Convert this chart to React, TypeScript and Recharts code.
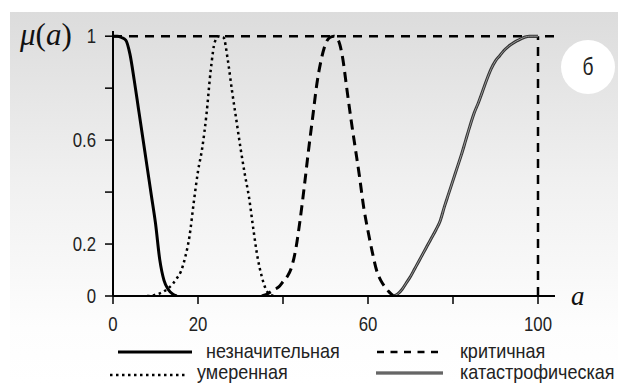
import React from 'react';
import { LineChart, Line, XAxis, YAxis, ReferenceLine } from 'recharts';

// membership functions μ(a)
const minorX = [0, 1, 2, 3, 4, 5, 6, 7, 8, 9, 10, 11, 12, 13, 14, 15];
const minorY = [1, 1, 0.995, 0.985, 0.93, 0.83, 0.72, 0.61, 0.5, 0.39, 0.28, 0.14, 0.06, 0.025, 0.008, 0];

const moderateX = [8, 9, 10, 11, 12, 13, 14, 15, 16, 17, 18, 19, 20, 21, 22, 23, 24, 25, 26, 27, 28, 29, 30, 31, 32, 33, 34, 35, 36, 37, 38];
const moderateY = [0, 0, 0.005, 0.01, 0.018, 0.03, 0.045, 0.068, 0.095, 0.15, 0.23, 0.36, 0.48, 0.57, 0.7, 0.87, 0.98, 1, 0.995, 0.91, 0.79, 0.68, 0.57, 0.47, 0.38, 0.26, 0.15, 0.075, 0.025, 0.005, 0];

const criticalX = [35, 36, 37, 38, 39, 40, 41, 42, 43, 44, 45, 46, 47, 48, 49, 50, 51, 52, 53, 54, 55, 56, 57, 58, 59, 60, 61, 62, 63, 64, 65, 66];
const criticalY = [0, 0.005, 0.015, 0.025, 0.035, 0.055, 0.075, 0.11, 0.18, 0.29, 0.42, 0.56, 0.69, 0.82, 0.91, 0.97, 0.995, 1, 0.985, 0.92, 0.8, 0.68, 0.57, 0.46, 0.34, 0.25, 0.17, 0.1, 0.06, 0.035, 0.015, 0];

const catastrophicX = [66, 67, 68, 69, 70, 71, 72, 73, 74, 75, 76, 77, 78, 79, 80, 81, 82, 83, 84, 85, 86, 87, 88, 89, 90, 91, 92, 93, 94, 95, 96, 97, 98, 99, 100];
const catastrophicY = [0, 0.008, 0.025, 0.05, 0.075, 0.105, 0.135, 0.165, 0.195, 0.225, 0.255, 0.29, 0.345, 0.395, 0.445, 0.495, 0.545, 0.6, 0.655, 0.705, 0.745, 0.79, 0.835, 0.875, 0.905, 0.925, 0.945, 0.96, 0.972, 0.982, 0.99, 0.997, 1, 1, 1];

const xTicks = [0, 20, 40, 60, 80, 100];
const xLabels = [0, 20, 60, 100];
const yTicks = [0, 0.2, 0.4, 0.6, 0.8, 1];
const yLabels = [0, 0.2, 0.6, 1];

const legendNames = ['незначительная', 'умеренная', 'критичная', 'катастрофическая'];

const zip = (xs: number[], ys: number[]) => xs.map((x, i) => ({ x, y: ys[i] }));

const FONT = '"Liberation Sans", Arial, sans-serif';
const SERIF = '"Liberation Serif", "DejaVu Serif", serif';

// condensed-looking text: Liberation Sans squeezed horizontally
const Narrow = ({ x, y, size = 20, sx = 0.84, anchor = 'start', dy, children }: any) => (
  <text
    transform={`translate(${x},${y}) scale(${sx},1)`}
    textAnchor={anchor}
    dy={dy}
    fontFamily={FONT}
    fontSize={size}
    fill="#222"
  >
    {children}
  </text>
);

const XTick = ({ x, y, payload }: any) =>
  xLabels.includes(payload.value) ? (
    <Narrow x={x} y={y} anchor="middle" dy="0.71em">{String(payload.value)}</Narrow>
  ) : null;

const YTick = ({ x, y, payload }: any) =>
  yLabels.includes(payload.value) ? (
    <Narrow x={x} y={y} anchor="end" dy="0.355em">{String(payload.value)}</Narrow>
  ) : null;

const Overlay = () => (
  <svg width={618} height={383} style={{ position: 'absolute', left: 0, top: 0, pointerEvents: 'none' }}>
    <line x1={118} x2={192} y1={352} y2={352} stroke="#000" strokeWidth={3} />
    <Narrow x={206} y={358} sx={0.9}>{legendNames[0]}</Narrow>
    <line x1={110} x2={186} y1={375} y2={375} stroke="#000" strokeWidth={2.5} strokeDasharray="2.5 3.5" />
    <Narrow x={197} y={379} sx={0.9}>{legendNames[1]}</Narrow>
    <line x1={377} x2={442} y1={352} y2={352} stroke="#000" strokeWidth={2.5} strokeDasharray="7 6.5" />
    <Narrow x={460} y={358} sx={0.9}>{legendNames[2]}</Narrow>
    <line x1={376} x2={443} y1={373} y2={373} stroke="#333" strokeWidth={3} />
    <line x1={376} x2={443} y1={373} y2={373} stroke="#999" strokeWidth={1} />
    <Narrow x={460} y={379} sx={0.9}>{legendNames[3]}</Narrow>

    <text x={20} y={45} fontFamily={SERIF} fontSize={31} fill="#111">
      <tspan fontStyle="italic">μ</tspan>(<tspan fontStyle="italic">a</tspan>)
    </text>
    <text x={571} y={305} fontFamily={SERIF} fontSize={27} fontStyle="italic" fill="#111">a</text>
    <circle cx={588} cy={67} r={27} fill="#fff" />
    <Narrow x={588} y={75} size={24} sx={0.8} anchor="middle">б</Narrow>
  </svg>
);

export default function App() {
  return (
    <div style={{ position: 'absolute', left: 0, top: 0, width: 618, height: 383, overflow: 'hidden', background: '#fff' }}>
      <div style={{ position: 'absolute', left: 10, top: 12, right: 0, bottom: 0, background: 'linear-gradient(to bottom, #dcdcdc 0%, #f0f0f0 45%, #fdfdfd 85%, #ffffff 100%)' }} />
      <LineChart width={618} height={383} margin={{ top: 31, right: 63, bottom: 47, left: 0 }} style={{ position: 'absolute', left: 0, top: 0 }}>
        <XAxis
          type="number"
          dataKey="x"
          domain={[0, 104]}
          ticks={xTicks}
          axisLine={{ stroke: '#000', strokeWidth: 2 }}
          tickLine={{ stroke: '#000', strokeWidth: 1.5 }}
          tickSize={8}
          tickMargin={13}
          height={40}
          tick={<XTick />}
          allowDataOverflow
        />
        <YAxis
          type="number"
          dataKey="y"
          domain={[0, 1.02]}
          ticks={yTicks}
          axisLine={{ stroke: '#000', strokeWidth: 2 }}
          tickLine={{ stroke: '#000', strokeWidth: 1.5 }}
          tickSize={8}
          tickMargin={9}
          width={113}
          tick={<YTick />}
          allowDataOverflow
        />
        <ReferenceLine y={1} stroke="#000" strokeWidth={2.5} strokeDasharray="9 7" />
        <ReferenceLine segment={[{ x: 100, y: 0 }, { x: 100, y: 1 }]} stroke="#000" strokeWidth={2.5} strokeDasharray="9 7" />
        <Line data={zip(minorX, minorY)} dataKey="y" type="monotone" stroke="#000" strokeWidth={3} dot={false} isAnimationActive={false} />
        <Line data={zip(moderateX, moderateY)} dataKey="y" type="monotone" stroke="#000" strokeWidth={2.5} strokeDasharray="2.5 3.5" dot={false} isAnimationActive={false} />
        <Line data={zip(criticalX, criticalY)} dataKey="y" type="monotone" stroke="#000" strokeWidth={3} strokeDasharray="10 6" dot={false} isAnimationActive={false} />
        <Line data={zip(catastrophicX, catastrophicY)} dataKey="y" type="monotone" stroke="#333" strokeWidth={3} dot={false} isAnimationActive={false} />
        <Line data={zip(catastrophicX, catastrophicY)} dataKey="y" type="monotone" stroke="#999" strokeWidth={1} dot={false} isAnimationActive={false} />
      </LineChart>
      <Overlay />
    </div>
  );
}
